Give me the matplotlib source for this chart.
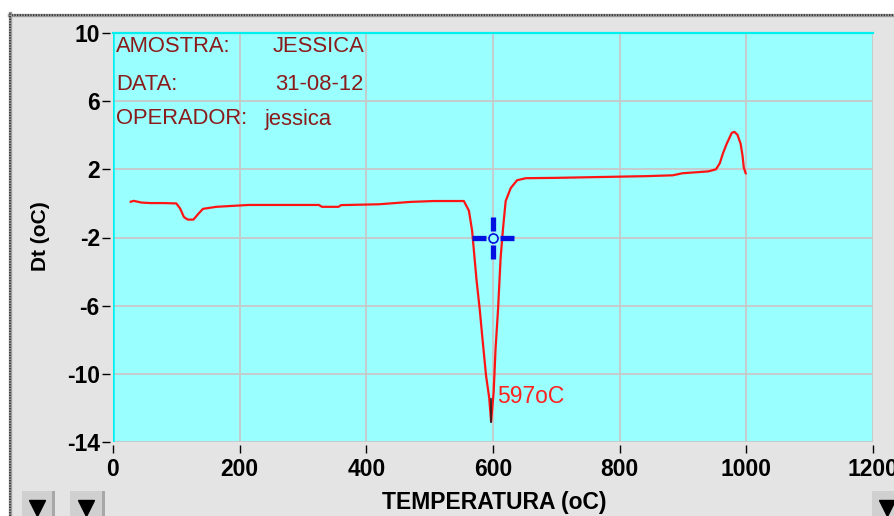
import matplotlib
matplotlib.use("Agg")
import matplotlib.pyplot as plt
from matplotlib.patches import Rectangle
from matplotlib.lines import Line2D
from matplotlib.path import Path

# DTA run: temperature (oC) vs differential temperature Dt (oC)
temperatura = [28, 33, 45, 60, 80, 100, 106, 112, 118, 127, 135, 142, 163, 214, 325, 330, 356, 360,
               420, 470, 507, 554, 562, 567, 574, 579, 583, 589, 594, 597, 601, 604, 608, 612,
               616, 620, 628, 638, 652, 700, 842, 884, 899, 940, 952, 958, 963, 969, 977, 981,
               986, 991, 994, 996, 999]
dt = [0.10, 0.15, 0.05, 0.02, 0.02, 0.00, -0.30, -0.80, -0.95, -0.95, -0.60, -0.32, -0.20, -0.09,
      -0.09, -0.20, -0.20, -0.10, -0.05, 0.09, 0.14, 0.14, -0.43, -1.6, -4.5, -6.2, -7.8, -10.1,
      -11.4, -12.8, -11.1, -8.55, -6.2, -3.2, -1.4, 0.14, 0.9, 1.36, 1.48, 1.50, 1.6, 1.65, 1.77,
      1.88, 2.0, 2.35, 2.93, 3.5, 4.14, 4.2, 4.03, 3.5, 2.8, 2.1, 1.77]

x_ticks = [0, 200, 400, 600, 800, 1000, 1200]
y_ticks = [10, 6, 2, -2, -6, -10, -14]

info_labels = ["AMOSTRA:", "DATA:", "OPERADOR:"]
info_values = ["JESSICA", "31-08-12", "jessica"]

pico_t = 597
cursor = (600, -2)

SANS = ["Liberation Sans", "DejaVu Sans"]
W, H = 895, 516
fig = plt.figure(figsize=(W / 100, H / 100), dpi=100, facecolor="white")

# panel background and dotted frame
fig.patches.append(Rectangle((12 / W, 0), 1, (H - 16) / H, transform=fig.transFigure,
                             facecolor="#e4e4e4", edgecolor="none", zorder=-5))
for xs, ys in [([9 / W, 1], [1 - 14.5 / H] * 2), ([10.5 / W] * 2, [0, 1 - 13 / H])]:
    fig.add_artist(Line2D(xs, ys, transform=fig.transFigure, color="#9a9a9a", lw=2.4))
    fig.add_artist(Line2D(xs, ys, transform=fig.transFigure, color="#303030", lw=1.2,
                          linestyle=(0, (0.8, 0.8))))

ax = fig.add_axes([113 / W, 1 - 442 / H, (873 - 113) / W, (442 - 33) / H])
ax.set_facecolor("#99ffff")
ax.set_xlim(0, 1200)
ax.set_ylim(-14, 10)

ax.set_xticks(x_ticks)
ax.set_yticks(y_ticks)
ax.grid(True, color="#c8c8c8", lw=1.3)
ax.set_axisbelow(True)

for side in ["right", "bottom", "left"]:
    ax.spines[side].set_visible(False)
ax.spines["top"].set_color("#00f0f0")
ax.spines["top"].set_linewidth(1.6)
ax.axvline(0, color="#00f0f0", lw=1.8, zorder=2)
ax.spines["bottom"].set_position(("outward", 2.2))
ax.spines["left"].set_position(("outward", 2.5))

tick_font = dict(family=SANS, weight="bold", size=16.5)
ax.tick_params(axis="both", direction="out", width=1, color="black")
ax.tick_params(axis="y", length=6, pad=1)
ax.tick_params(axis="x", length=6, pad=3)
ax.set_xticklabels([str(v) for v in x_ticks], fontdict=tick_font)
ax.set_yticklabels([str(v) for v in y_ticks], fontdict=tick_font)

ax.set_xlabel("TEMPERATURA (oC)", family=SANS, weight="bold", size=16.5, va="center")
ax.xaxis.set_label_coords(0.502, -(502 - 442) / 409)
ax.set_ylabel("Dt (oC)", family=SANS, weight="bold", size=15, va="center")
ax.yaxis.set_label_coords(-(113 - 41) / 760, (442 - 236) / 409)

# curve
ax.plot(temperatura, dt, color="#ff1414", lw=1.6, zorder=3)

# peak mark and label
pico_dt = dt[temperatura.index(pico_t)]
ax.plot([pico_t, pico_t], [pico_dt, pico_dt + 1.3], color="#202020", lw=1.2, zorder=4)
ax.annotate(f"{pico_t}oC", (pico_t, pico_dt), xytext=(4, 18), textcoords="offset points",
            color="#ff2020", fontsize=16.5, family=SANS, va="center", ha="left")

# cursor cross
arms = Path([(-1, 0), (-0.32, 0), (0.32, 0), (1, 0), (0, -1), (0, -0.32), (0, 0.32), (0, 1)],
            [Path.MOVETO, Path.LINETO] * 4)
ax.plot(*cursor, marker=arms, markersize=30, markeredgewidth=3.8, color="#0010e0",
        zorder=5)
ax.plot(*cursor, marker="o", markersize=6.5, markeredgewidth=1.2, markeredgecolor="#0010e0",
        markerfacecolor="#99ffff", zorder=6)

# sample info block
for i, (lab, val) in enumerate(zip(info_labels, info_values)):
    y = 1 - [47, 84, 119][i] / H
    fig.text(116 / W, y, lab, color="#8b1a1a", fontsize=15.8, family=SANS, va="center")
    if i < 2:
        fig.text(364 / W, y, val, color="#8b1a1a", fontsize=15.8, family=SANS,
                 va="center", ha="right")
    else:
        fig.text(265 / W, y, val, color="#8b1a1a", fontsize=15.8, family=SANS, va="center")

# scroll buttons
for x0, x1 in [(22, 55), (70, 105), (872, 905)]:
    fig.patches.append(Rectangle((x0 / W, 0), (x1 - x0) / W, 25 / H, transform=fig.transFigure,
                                 facecolor="#d0d0d0", edgecolor="none", zorder=1))
    fig.patches.append(Rectangle(((x1 - 3) / W, 0), 3 / W, 25 / H, transform=fig.transFigure,
                                 facecolor="#a8a8a8", edgecolor="none", zorder=1))
    fig.add_artist(Line2D([(x0 + x1 - 3) / 2 / W], [8 / H], transform=fig.transFigure,
                          marker="v", markersize=11, color="black", zorder=2))

fig.savefig("out.png", dpi=100, facecolor=fig.get_facecolor())
